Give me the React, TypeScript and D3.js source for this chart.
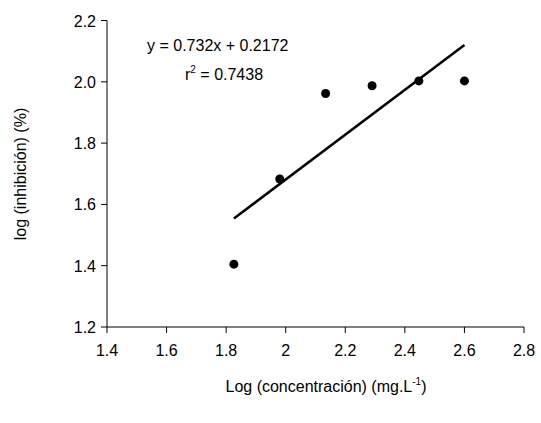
import React from "react";
import * as d3 from "d3";

const xs = [1.826, 1.98, 2.134, 2.29, 2.447, 2.6];
const ys = [1.405, 1.683, 1.962, 1.987, 2.003, 2.003];
const xTicks = [1.4, 1.6, 1.8, 2, 2.2, 2.4, 2.6, 2.8];
const yTicks = [1.2, 1.4, 1.6, 1.8, 2.0, 2.2];
const slope = 0.732, intercept = 0.2172;

export default function App() {
  const x = d3.scaleLinear().domain([1.4, 2.8]).range([107, 524]);
  const y = d3.scaleLinear().domain([1.2, 2.2]).range([327, 20.5]);
  const f = "'Liberation Sans', Arial, sans-serif";
  const x0 = d3.min(xs)!, x1 = d3.max(xs)!;
  return (
    <svg width={541} height={423} style={{ position: "absolute", left: 0, top: 0 }} fontFamily={f}>
      <rect width={541} height={423} fill="#fff" />
      <line x1={107} x2={107} y1={y(2.2)} y2={327} stroke="#000" />
      <line x1={107} x2={x(2.8)} y1={327} y2={327} stroke="#000" />
      {yTicks.map(t => (
        <g key={t}>
          <line x1={101} x2={107} y1={y(t)} y2={y(t)} stroke="#000" />
          <text x={96} y={y(t) + 6} textAnchor="end" fontSize={16}>{t.toFixed(1)}</text>
        </g>
      ))}
      {xTicks.map(t => (
        <g key={t}>
          <line x1={x(t)} x2={x(t)} y1={327} y2={333} stroke="#000" />
          <text x={x(t)} y={356} textAnchor="middle" fontSize={16}>{String(t)}</text>
        </g>
      ))}
      <line x1={x(x0)} y1={y(slope * x0 + intercept)} x2={x(x1)} y2={y(slope * x1 + intercept)} stroke="#000" strokeWidth={2.5} />
      {xs.map((v, i) => <circle key={i} cx={x(v)} cy={y(ys[i])} r={4.5} fill="#000" />)}
      <text x={147} y={51} fontSize={16}>y = 0.732x + 0.2172</text>
      <text x={185} y={80} fontSize={16}>r<tspan fontSize={10} dy={-7}>2</tspan><tspan dy={7}> = 0.7438</tspan></text>
      <text transform="translate(26,174) rotate(-90)" textAnchor="middle" fontSize={16}>log (inhibición) (%)</text>
      <text x={326} y={392} textAnchor="middle" fontSize={16}>Log (concentración) (mg.L<tspan fontSize={10} dy={-7}>-1</tspan><tspan dy={7}>)</tspan></text>
    </svg>
  );
}
